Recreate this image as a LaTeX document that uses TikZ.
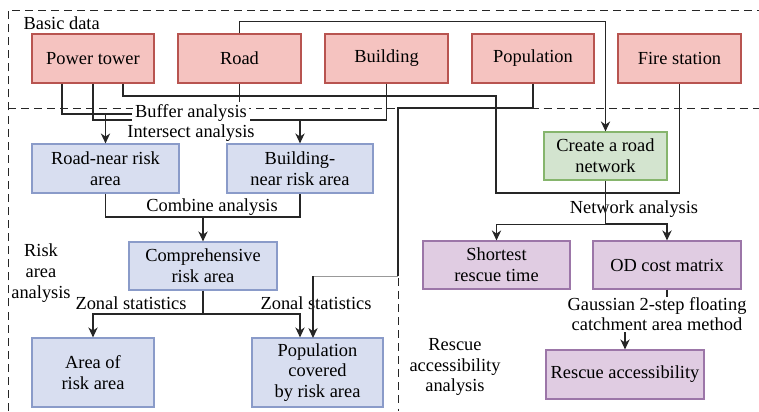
\documentclass[tikz,border=0pt]{standalone}
\usepackage{fontspec}
\setmainfont{Liberation Serif}
\usetikzlibrary{arrows.meta}

\definecolor{redfill}{HTML}{F5C3C0}
\definecolor{redline}{HTML}{B85450}
\definecolor{bluefill}{HTML}{D8DEF0}
\definecolor{blueline}{HTML}{8A9BC9}
\definecolor{greenfill}{HTML}{D3E4CF}
\definecolor{greenline}{HTML}{86B56D}
\definecolor{purplefill}{HTML}{E0CCE2}
\definecolor{purpleline}{HTML}{9C76A8}

\tikzset{
  box/.style={draw, line width=0.9pt, align=center, inner sep=1pt,
    font=\fontsize{13.8}{15.5}\selectfont},
  sz/.style 2 args={minimum width=#1*0.75pt, minimum height=#2*0.75pt},
  datanode/.style={box, fill=redfill, draw=redline, sz={122}{49}},
  risknode/.style={box, fill=bluefill, draw=blueline},
  netnode/.style={box, fill=greenfill, draw=greenline},
  rescuenode/.style={box, fill=purplefill, draw=purpleline},
  lbl/.style={align=center, inner sep=1pt, font=\fontsize{13.8}{15.5}\selectfont},
  conn/.style={line width=0.9pt, draw=black!85},
  arr/.style={conn, -{Stealth[length=7.5pt, width=7pt, inset=2.4pt]}},
  region/.style={line width=0.7pt, draw=black!85, dash pattern=on 6pt off 3.8pt},
}

\begin{document}
\begin{tikzpicture}[x=0.75pt, y=-0.75pt]
\useasboundingbox (0,0) rectangle (759,411);

% region borders
\draw[region] (8,411) -- (8,10) -- (759,10);
\draw[region] (8,108) -- (759,108);
\draw[region] (398,108) -- (398,411);

% basic data
\node[lbl, anchor=west] (basic) at (22,23) {Basic data};
\node[datanode] (pt)   at (93,58.5)    {Power tower};
\node[datanode, sz={123}{49}] (road) at (239.5,58.5) {Road};
\node[datanode, sz={123}{49}] (bld)  at (386.5,58.5) {Building};
\node[datanode] (pop)  at (533,58.5)   {Population};
\node[datanode, sz={123}{49}] (fire) at (679.5,58.5) {Fire station};

% risk area analysis
\node[lbl, fill=white, inner sep=2pt] (buffer) at (191,113) {Buffer analysis};
\node[lbl] (intersect) at (191,133) {Intersect analysis};
\node[risknode, sz={147}{49}] (rn) at (105.5,168.5) {Road-near risk\\area};
\node[risknode, sz={146}{49}] (bn) at (300,168.5) {Building-\\near risk area};
\node[lbl] (combine) at (212,207) {Combine analysis};
\node[risknode, sz={148}{48}] (comp) at (203,266) {Comprehensive\\risk area};
\node[lbl] (zonalA) at (131,303) {Zonal statistics};
\node[lbl] (zonalB) at (316,303) {Zonal statistics};
\node[risknode, sz={122}{69}] (area) at (93,372.5) {Area of\\risk area};
\node[risknode, sz={131}{69}] (popc) at (317.5,372.5) {Population\\covered\\by risk area};
\node[lbl] (riskreg) at (41,273) {Risk\\area\\analysis};

% rescue accessibility analysis
\node[netnode, sz={123}{48}] (crn) at (605.5,156) {Create a road\\network};
\node[lbl] (network) at (634,209) {Network analysis};
\node[rescuenode, sz={147}{48}] (srt) at (496.5,265) {Shortest\\rescue time};
\node[rescuenode, sz={148}{48}] (od) at (667,265) {OD cost matrix};
\node[lbl] (gauss) at (657,314) {Gaussian 2-step floating\\catchment area method};
\node[rescuenode, sz={158}{49}] (racc) at (625,374.5) {Rescue accessibility};
\node[lbl] (rescreg) at (455,367) {Rescue\\accessibility\\analysis};

% bend points of the population connector
\coordinate (popA) at (533,108);
\coordinate (popB) at (398,108);
\coordinate (popC) at (398,276);
\coordinate (popD) at (313,276);
\coordinate (popE) at (313,338);

% connectors: basic data to road network
\draw[arr] (road.north) -- ++(0,-12) -| (crn.north);
\draw[conn] (pt.south -| 123,0) |- (496,96) |- (679.5,193) -- (fire.south);
\draw[conn] (road.south) -- ++(0,18);

% buffer and intersect analysis
\draw[conn] (pt.south -| 62,0) |- (buffer.west |- 0,114);
\draw[conn] (pt.south) |- (buffer.west |- 0,120);
\draw[arr] (rn.north |- 0,114) -- (rn.north);
\draw[conn] (bld.south) |- (buffer.east |- 0,120);
\draw[arr] (bn.north |- 0,120) -- (bn.north);

% combine analysis
\draw[conn] (rn.south) |- (comp.north |- 0,217) -| (bn.south);
\draw[arr] (comp.north |- 0,217) -- (comp.north);

% zonal statistics
\draw[arr] (comp.south) |- (area.north |- 0,314) -- (area.north);
\draw[arr] (comp.south |- 0,314) -| (popc.north -| 300,0);
\draw[conn] (pop.south) -- (popA) -- (popB) -- (popC);
\draw[conn, draw=black!40, line width=0.6pt] (popC) -- (popD);
\draw[arr] (popD) -- (popE);

% network analysis
\draw[arr] (crn.south) -- ++(0,44) -| (srt.north);
\draw[arr] (crn.south |- 0,224) -| (od.north);

% accessibility
\draw[conn] (od.south) -- ++(0,7);
\draw[arr] (racc.north |- 0,332) -- (racc.north);
\end{tikzpicture}
\end{document}
